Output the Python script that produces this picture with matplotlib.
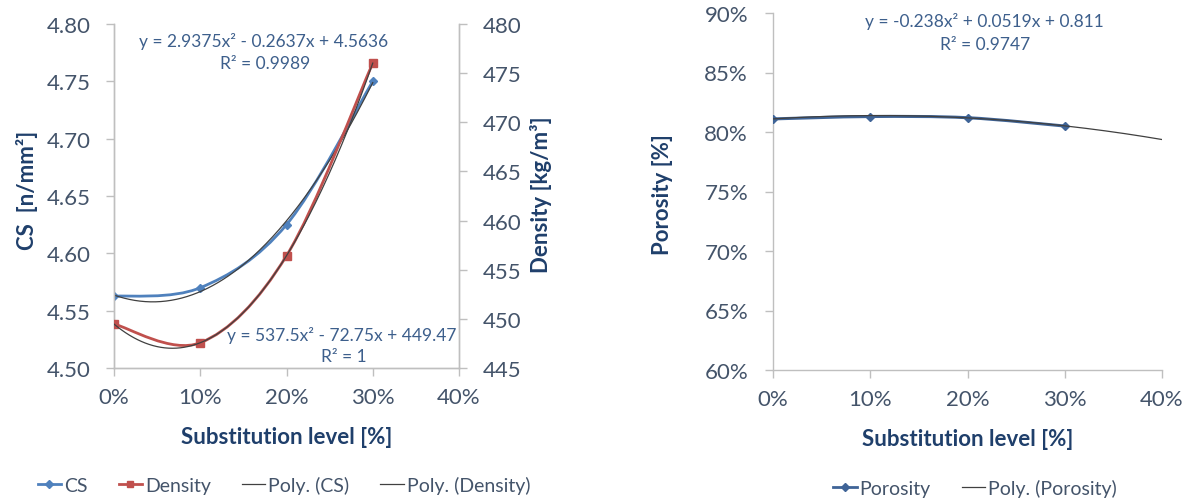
import numpy as np
import matplotlib
matplotlib.use("Agg")
import matplotlib.pyplot as plt
from matplotlib.path import Path
from matplotlib.patches import PathPatch
from matplotlib.lines import Line2D
from matplotlib.ticker import FuncFormatter, FixedLocator

plt.rcParams['font.family'] = ['Lato', 'DejaVu Sans']

# ---- data ----
substitution = [0.0, 0.1, 0.2, 0.3]
cs_values = [4.5625, 4.570, 4.625, 4.750]            # N/mm²
density_values = [449.47, 447.57, 456.42, 476.02]     # kg/m³
porosity_values = [0.811, 0.813, 0.812, 0.805]        # fraction

cs_poly = [2.9375, -0.2637, 4.5636]
density_poly = [537.5, -72.75, 449.47]
porosity_poly = [-0.238, 0.0519, 0.811]

cs_eq = "y = 2.9375x² - 0.2637x + 4.5636"
cs_r2 = "R² = 0.9989"
density_eq = "y = 537.5x² - 72.75x + 449.47"
density_r2 = "R² = 1"
porosity_eq = "y = -0.238x² + 0.0519x + 0.811"
porosity_r2 = "R² = 0.9747"

x_ticks = [0.0, 0.1, 0.2, 0.3, 0.4]
cs_ticks = [4.50, 4.55, 4.60, 4.65, 4.70, 4.75, 4.80]
density_ticks = [445, 450, 455, 460, 465, 470, 475, 480]
porosity_ticks = [0.60, 0.65, 0.70, 0.75, 0.80, 0.85, 0.90]

# ---- style ----
TICK_C = '#44546A'
TITLE_C = '#1F3F6B'
EQ_C = '#3D5F8C'
SPINE_C = '#BFBFBF'
CS_C = '#4F81BD'
DEN_C = '#C0504D'
POR_C = '#3F6497'
TREND_C = '#404040'
TICK_FS = 16
TITLE_FS = 16
EQ_FS = 12.5


def smooth_path(xs, ys):
    """Cubic Bezier path through the points (spreadsheet-style smoothed line)."""
    pts = np.column_stack([xs, ys]).astype(float)
    n = len(pts)
    verts = [pts[0]]
    codes = [Path.MOVETO]
    for i in range(n - 1):
        p0 = pts[i - 1] if i > 0 else pts[i]
        p1 = pts[i]
        p2 = pts[i + 1]
        p3 = pts[i + 2] if i + 2 < n else pts[i + 1]
        c1 = p1 + (p2 - p0) / 6.0
        c2 = p2 - (p3 - p1) / 6.0
        verts += [c1, c2, p2]
        codes += [Path.CURVE4] * 3
    return Path(verts, codes)


def style_axis(ax):
    for s in ax.spines.values():
        s.set_color(SPINE_C)
        s.set_linewidth(1.0)
    ax.spines['top'].set_visible(False)
    ax.tick_params(colors=SPINE_C, labelcolor=TICK_C, labelsize=TICK_FS, length=6, width=1.0)


def place_label(label, x, y):
    label.set_va('center')
    label.set_ha('center')
    label.axes  # noqa
    return (x, y)


pct = FuncFormatter(lambda v, p: f"{v*100:.0f}%")

fig = plt.figure(figsize=(11.89, 5.02), dpi=100)

# ---------- left chart: CS and density ----------
ax1 = fig.add_axes([114/1189, 1-369/502, (459-114)/1189, (369-25)/502])
ax2 = ax1.twinx()
style_axis(ax1)
style_axis(ax2)
ax1.spines['right'].set_visible(True)

ax1.set_xlim(0, 0.4)
ax1.set_ylim(4.50, 4.80)
ax2.set_ylim(445, 480)
ax1.xaxis.set_major_locator(FixedLocator(x_ticks))
ax1.xaxis.set_major_formatter(pct)
ax1.yaxis.set_major_locator(FixedLocator(cs_ticks))
ax1.yaxis.set_major_formatter(FuncFormatter(lambda v, p: f"{v:.2f}"))
ax2.yaxis.set_major_locator(FixedLocator(density_ticks))
ax1.tick_params(axis='x', pad=8)
ax1.tick_params(axis='y', pad=11)
ax2.tick_params(axis='y', pad=11)

xf = np.linspace(0, 0.3, 200)
ax1.add_patch(PathPatch(smooth_path(substitution, cs_values), fill=False,
                        edgecolor=CS_C, lw=2.0, zorder=3))
ax1.plot(substitution, cs_values, ls='none', marker='D', ms=4.5, color=CS_C, zorder=4)
ax1.plot(xf, np.polyval(cs_poly, xf), color=TREND_C, lw=0.9, zorder=5)

ax2.add_patch(PathPatch(smooth_path(substitution, density_values), fill=False,
                        edgecolor=DEN_C, lw=2.0, zorder=3))
ax2.plot(substitution, density_values, ls='none', marker='s', ms=6, color=DEN_C, zorder=4)
ax2.plot(xf, np.polyval(density_poly, xf), color=TREND_C, lw=0.9, zorder=5)

ax1.set_ylabel("CS  [n/mm²]", fontsize=TITLE_FS, fontweight='bold', color=TITLE_C)
ax2.set_ylabel("Density [kg/m³]", fontsize=TITLE_FS, fontweight='bold', color=TITLE_C)
ax1.set_xlabel("Substitution level [%]", fontsize=TITLE_FS, fontweight='bold', color=TITLE_C)
for lab in (ax1.yaxis.label, ax2.yaxis.label, ax1.xaxis.label):
    lab.set_va('center')
    lab.set_ha('center')
ax1.yaxis.set_label_coords(-0.252, 0.52)
ax2.yaxis.set_label_coords(1.238, 0.506)
ax1.xaxis.set_label_coords(0.5, -0.20)

fig.text(264/1189, 1-42/502, cs_eq, ha='center', va='center', fontsize=EQ_FS, color=EQ_C)
fig.text(265/1189, 1-64/502, cs_r2, ha='center', va='center', fontsize=EQ_FS, color=EQ_C)
fig.text(342/1189, 1-336/502, density_eq, ha='center', va='center', fontsize=EQ_FS, color=EQ_C)
fig.text(344/1189, 1-357/502, density_r2, ha='center', va='center', fontsize=EQ_FS, color=EQ_C)

handles1 = [
    Line2D([], [], color=CS_C, lw=2, marker='D', ms=4),
    Line2D([], [], color=DEN_C, lw=2, marker='s', ms=5),
    Line2D([], [], color=TREND_C, lw=0.9),
    Line2D([], [], color=TREND_C, lw=0.9),
]
fig.legend(handles1, ["CS", "Density", "Poly. (CS)", "Poly. (Density)"],
           loc='center', bbox_to_anchor=(284/1189, 1-486/502), ncol=4,
           frameon=False, fontsize=14, handlelength=1.2, handletextpad=0.15,
           columnspacing=1.6, labelcolor=TICK_C)

# ---------- right chart: porosity ----------
ax3 = fig.add_axes([773/1189, 1-371/502, (1162-773)/1189, (371-14)/502])
style_axis(ax3)
ax3.spines['right'].set_visible(False)
ax3.set_xlim(0, 0.4)
ax3.set_ylim(0.60, 0.90)
ax3.xaxis.set_major_locator(FixedLocator(x_ticks))
ax3.xaxis.set_major_formatter(pct)
ax3.yaxis.set_major_locator(FixedLocator(porosity_ticks))
ax3.yaxis.set_major_formatter(pct)
ax3.tick_params(axis='x', pad=8)
ax3.tick_params(axis='y', pad=12)

xp = np.linspace(0, 0.4, 200)
ax3.add_patch(PathPatch(smooth_path(substitution, porosity_values), fill=False,
                        edgecolor=POR_C, lw=2.2, zorder=3))
ax3.plot(substitution, porosity_values, ls='none', marker='D', ms=4.5, color=POR_C, zorder=4)
ax3.plot(xp, np.polyval(porosity_poly, xp), color=TREND_C, lw=0.9, zorder=5)

ax3.set_ylabel("Porosity [%]", fontsize=TITLE_FS, fontweight='bold', color=TITLE_C)
ax3.set_xlabel("Substitution level [%]", fontsize=TITLE_FS, fontweight='bold', color=TITLE_C)
for lab in (ax3.yaxis.label, ax3.xaxis.label):
    lab.set_va('center')
    lab.set_ha('center')
ax3.yaxis.set_label_coords(-0.285, 0.493)
ax3.xaxis.set_label_coords(0.5, -0.193)

fig.text(984/1189, 1-22/502, porosity_eq, ha='center', va='center', fontsize=EQ_FS, color=EQ_C)
fig.text(985/1189, 1-45/502, porosity_r2, ha='center', va='center', fontsize=EQ_FS, color=EQ_C)

handles2 = [
    Line2D([], [], color=POR_C, lw=2, marker='D', ms=4),
    Line2D([], [], color=TREND_C, lw=0.9),
]
fig.legend(handles2, ["Porosity", "Poly. (Porosity)"],
           loc='center', bbox_to_anchor=(975/1189, 1-489/502), ncol=2,
           frameon=False, fontsize=14, handlelength=1.2, handletextpad=0.15,
           columnspacing=1.6, labelcolor=TICK_C)

fig.savefig("out.png", dpi=100, facecolor='white')
